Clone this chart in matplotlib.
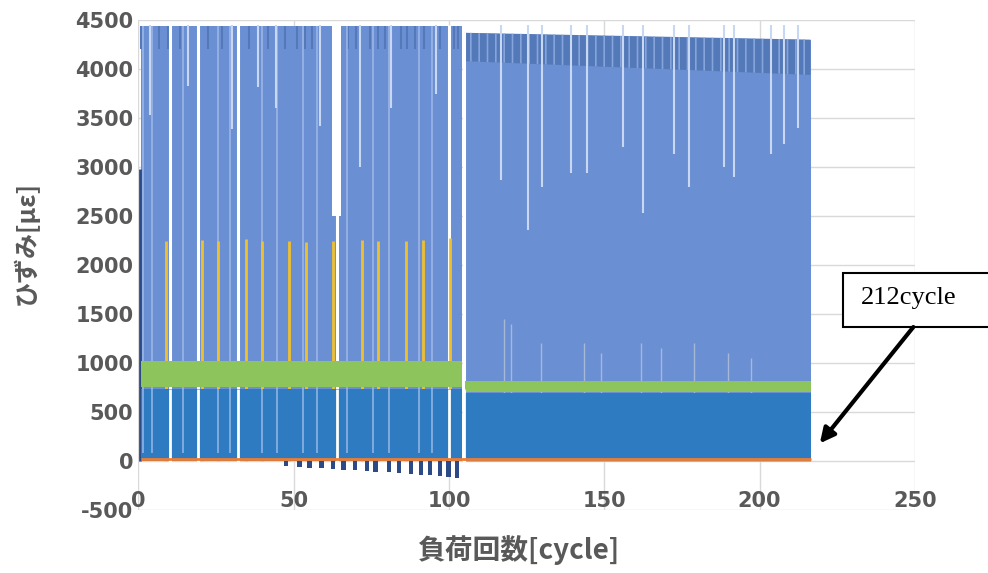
import matplotlib.pyplot as plt
from matplotlib.patches import Rectangle

plt.rcParams['font.family'] = ['DejaVu Sans', 'Noto Sans CJK JP']
plt.rcParams['axes.unicode_minus'] = False
plt.rcParams['hatch.linewidth'] = 1.2

# two loading stages [cycle]
stage_start = [1.0, 105.3]
stage_end = [104.2, 216.4]
# main gauge (light blue): peak strain at start / end of each stage [με]
blue_peak_start = [4440, 4370]
blue_peak_end = [4440, 4300]
# darker band just under the peaks
band_low_start = [4330, 4080]
band_low_end = [4330, 3940]
# green gauge band
green_low = [750, 700]
green_high = [1020, 815]
# mid blue gauge peak
mid_peak = [730, 690]
# orange gauge (almost zero)
orange_level = 20

# first cycle only reaches ~3000
first_cycle = 0.4
first_peak = 2980

# unloading gaps in stage 1
gap_cycles = [10.2, 19.3, 32.2, 64.1, 99.9, 104.7]
# wide drop around cycle 64
wide_gap = [62.4, 65.3]
wide_gap_low = 2500

# partial drops of the main gauge (cycle, lowest strain)
drop_cycles = [3.8, 16.0, 30.2, 38.6, 44.4, 58.6, 71.5, 81.2, 95.7,
               116.7, 125.4, 130.1, 139.3, 144.6, 155.9, 162.4, 172.6,
               177.4, 188.7, 191.9, 203.8, 208.0, 212.4]
drop_low = [3530, 3830, 3390, 3820, 3600, 3420, 3000, 3600, 3750,
            2870, 2360, 2800, 2940, 2940, 3200, 2530, 3130,
            2800, 3000, 2900, 3130, 3230, 3400]

# paler full-height streaks in stage 1
pale_cycles = [1.5, 4.4, 14.4, 25.7, 29.6, 39.9, 44.7, 53.1, 57.6,
               67.3, 75.4, 80.6, 90.2, 94.7]

# dark marks on the peaks in stage 1
top_mark_cycles = [0.8, 6.5, 9.4, 13.5, 22.5, 27.0, 35.5, 41.8, 47.2, 51.0,
                   53.5, 56.0, 67.5, 70.0, 74.5, 77.0, 79.5, 84.5, 86.5,
                   89.0, 92.0, 97.0, 101.5, 103.0]
top_mark_low = 4200

# yellow gauge peaks
yellow_cycles = [8.9, 20.5, 25.7, 34.7, 39.8, 48.6, 54.0, 62.8, 72.1,
                 77.3, 86.1, 91.5, 100.2]
yellow_peak = [2250, 2260, 2250, 2270, 2240, 2250, 2230, 2250, 2260,
               2240, 2250, 2260, 2280]

# faint gauge streaks above the green band in stage 2
gray_cycles = [117.6, 119.9, 129.6, 143.5, 149.0, 161.8, 168.3, 179.0,
               189.9, 197.3]
gray_peak = [1450, 1400, 1200, 1200, 1100, 1200, 1150, 1200, 1100, 1050]

# navy gauge compressive dips
dip_cycles = [47.6, 51.9, 55.1, 59.0, 62.6, 66.1, 69.8, 73.7, 76.3,
              80.8, 84.0, 87.8, 91.0, 93.8, 97.1, 99.8, 102.5]
dip_depth = [-50, -60, -70, -70, -80, -90, -90, -100, -110,
             -110, -120, -130, -140, -140, -150, -160, -170]

fig = plt.figure(figsize=(9.88, 5.73), dpi=100)
ax = fig.add_axes([0.14, 0.11, 0.786, 0.855])

c_main = '#6b8fd3'
c_band = '#5479b8'
c_green = '#8dc55c'
c_mid = '#2f7bc2'
c_yellow = '#f0c02c'
c_orange = '#ed7d31'
c_navy = '#2c4a86'

for i in range(2):
    xs = [stage_start[i], stage_end[i]]
    ax.fill_between(xs, [0, 0], [blue_peak_start[i], blue_peak_end[i]],
                    color=c_main, lw=0, zorder=2)
    ax.fill_between(xs, [band_low_start[i], band_low_end[i]],
                    [blue_peak_start[i], blue_peak_end[i]],
                    facecolor=c_band if i == 1 else c_main,
                    edgecolor='#86a4dc', hatch='||' if i == 1 else None,
                    lw=0, zorder=2.1)

ax.vlines(first_cycle, 0, first_peak, color=c_navy, lw=2, zorder=2)
ax.vlines(top_mark_cycles, top_mark_low, blue_peak_start[0],
          color=c_band, lw=1.5, zorder=2.2)
ax.vlines(pale_cycles, 0, blue_peak_start[0], color='#9bb5e6', lw=1.2,
          zorder=2.3)
ax.vlines(drop_cycles, drop_low, 4450, color='#c9d8f2', lw=1.5, zorder=2.4)
ax.fill_between(wide_gap, [wide_gap_low, wide_gap_low], [4450, 4450],
                color='white', lw=0, zorder=2.5)
ax.vlines(gap_cycles, -10, 4450, color='white', lw=2.2, zorder=2.5)

ax.vlines(yellow_cycles, 0, yellow_peak, color=c_yellow, lw=2, zorder=3)
ax.vlines(gray_cycles, 0, gray_peak, color='#a7b8d6', lw=1, zorder=3)

for i in range(2):
    xs = [stage_start[i], stage_end[i]]
    ax.fill_between(xs, [green_low[i]] * 2, [green_high[i]] * 2,
                    color=c_green, lw=0, zorder=4)
    ax.fill_between(xs, [0, 0], [mid_peak[i]] * 2, color=c_mid, lw=0,
                    zorder=5)

ax.vlines(pale_cycles, 80, mid_peak[0], color='#8fb3e3', lw=1.2, zorder=5.1)
ax.vlines(gap_cycles, -10, mid_peak[0], color='white', lw=2, zorder=5.2)

ax.bar(dip_cycles, dip_depth, width=1.4, color=c_navy, zorder=5.5)
ax.hlines(orange_level, stage_start[0], stage_end[1], color=c_orange,
          lw=2, zorder=6)

ax.set_xlim(0, 250)
ax.set_ylim(-500, 4500)
ax.set_xticks(range(0, 251, 50))
ax.set_yticks(range(-500, 4501, 500))
ax.grid(True, color='#d9d9d9', lw=1, zorder=0)
ax.set_axisbelow(True)
for s in ax.spines.values():
    s.set_visible(False)
ax.tick_params(length=0, labelsize=15, labelcolor='#595959')
ax.tick_params(axis='x', pad=-14)
for lab in ax.get_xticklabels() + ax.get_yticklabels():
    lab.set_fontweight('bold')

ax.set_ylabel('ひずみ[με]', family=['Noto Sans CJK JP', 'DejaVu Sans'],
              fontsize=18, fontweight='bold', color='#595959')
ax.yaxis.set_label_coords(-0.128, 0.545)
ax.set_xlabel('負荷回数[cycle]', family=['Noto Sans CJK JP', 'DejaVu Sans'],
              fontsize=20, fontweight='bold', color='#595959')
ax.xaxis.set_label_coords(0.489, -0.052)

# annotation box and arrow
ax.add_patch(Rectangle((226.9, 1367), 50, 553, facecolor='white',
                       edgecolor='black', lw=1.5, clip_on=False, zorder=10))
ax.text(232.5, 1660, '212cycle', family='Liberation Serif', fontsize=19,
        va='center', ha='left', zorder=11)
ax.annotate('', xy=(219.4, 180), xytext=(249.5, 1367),
            arrowprops=dict(arrowstyle='-|>', lw=3, color='black',
                            mutation_scale=22, shrinkA=0, shrinkB=0),
            zorder=10, annotation_clip=False)

fig.savefig('out.png', dpi=100)
